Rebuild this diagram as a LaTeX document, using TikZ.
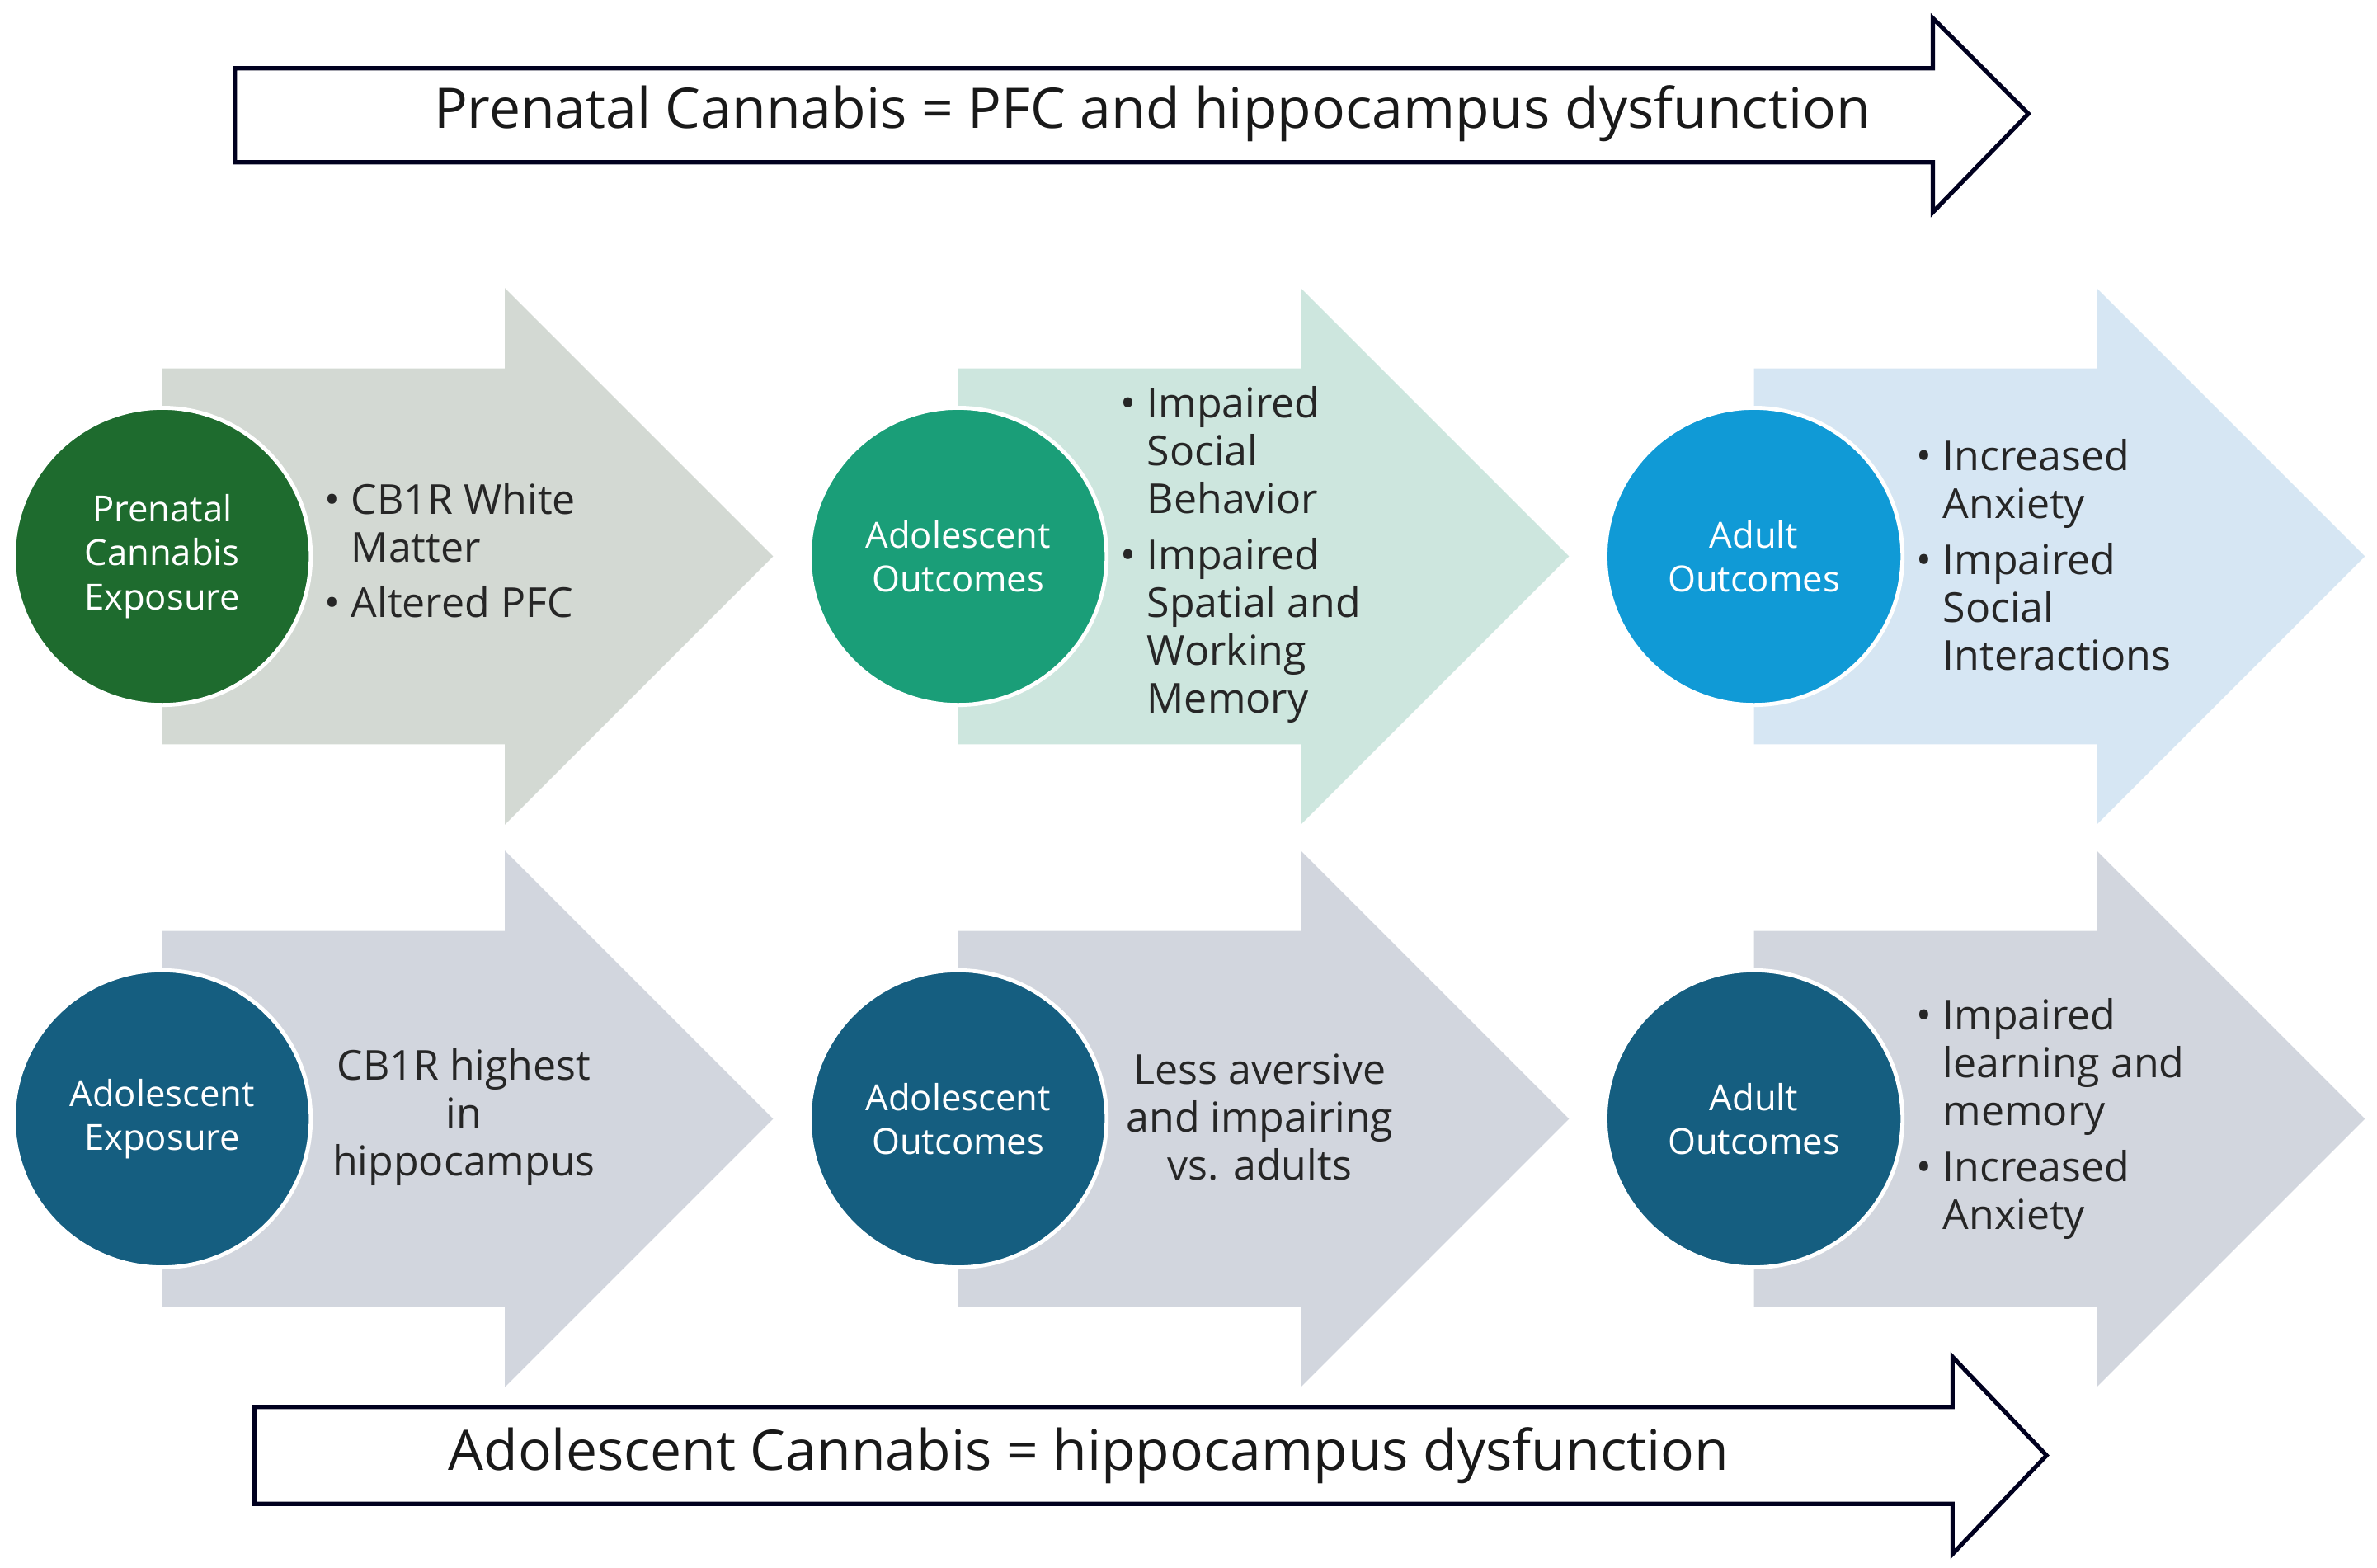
\documentclass[tikz,border=0pt]{standalone}
\usepackage{fontspec}
\setmainfont{Open Sans}
\begin{document}
\begin{tikzpicture}[x=0.02cm,y=-0.02cm,
  big/.style={draw=none},
  circ/.style={circle,draw=white,line width=1.5pt,minimum size=196*0.02cm,inner sep=0pt,text=white,align=center,font=\fontsize{13.5}{16.5}\selectfont},
  txt/.style={align=left,anchor=west,inner sep=0pt,text=black!85,font=\fontsize{15.5}{18}\selectfont},
  ctxt/.style={align=center,inner sep=0pt,text=black!85,font=\fontsize{15.5}{18}\selectfont},
  title/.style={font=\fontsize{21}{24}\selectfont,text=black!90,inner sep=0pt},
  outl/.style={draw=black!70!blue!40!black,line width=1.6pt,fill=white,line join=miter}]
\useasboundingbox (0,0) rectangle (1568,1034);
\definecolor{ga}{HTML}{D3D9D3}\definecolor{gb}{HTML}{CDE6DE}\definecolor{gc}{HTML}{D6E6F3}\definecolor{gd}{HTML}{D2D6DE}
\definecolor{ca}{HTML}{1E6B2E}\definecolor{cb}{HTML}{1A9E78}\definecolor{cc}{HTML}{109AD6}\definecolor{cd}{HTML}{155E80}
\newcommand\bigarrow[3]{\fill[#3] (#1,#2-124)--(#1+226,#2-124)--(#1+226,#2-177)--(#1+403,#2)--(#1+226,#2+177)--(#1+226,#2+124)--(#1,#2+124)--cycle;}
\bigarrow{107}{367}{ga}\bigarrow{632}{367}{gb}\bigarrow{1157}{367}{gc}
\bigarrow{107}{738}{gd}\bigarrow{632}{738}{gd}\bigarrow{1157}{738}{gd}
% outline arrows
\draw[outl] (155,45)--(1275,45)--(1275,12)--(1338,75)--(1275,140)--(1275,107)--(155,107)--cycle;
\node[title] (t1) at (760,75) {Prenatal Cannabis = PFC and hippocampus dysfunction};
\draw[outl] (168,928)--(1288,928)--(1288,895)--(1350,960)--(1288,1025)--(1288,992)--(168,992)--cycle;
\node[title] (t2) at (718,960) {Adolescent Cannabis = hippocampus dysfunction};
% circles
\node[circ,fill=ca] (c1) at (107,367) {Prenatal\\Cannabis\\Exposure};
\node[circ,fill=cb] (c2) at (632,367) {Adolescent\\Outcomes};
\node[circ,fill=cc] (c3) at (1157,367) {Adult\\Outcomes};
\node[circ,fill=cd] (c4) at (107,738) {Adolescent\\Exposure};
\node[circ,fill=cd] (c5) at (632,738) {Adolescent\\Outcomes};
\node[circ,fill=cd] (c6) at (1157,738) {Adult\\Outcomes};
% texts
\def\B{\makebox[20\pgflinewidth][l]{}}
\node[txt] (x1) at (214,363) {\textbullet\ CB1R White\\\phantom{\textbullet\ }Matter\\[3pt]\textbullet\ Altered PFC};
\node[txt] (x2) at (739,366) {\textbullet\ Impaired\\\phantom{\textbullet\ }Social\\\phantom{\textbullet\ }Behavior\\[3pt]\textbullet\ Impaired\\\phantom{\textbullet\ }Spatial and\\\phantom{\textbullet\ }Working\\\phantom{\textbullet\ }Memory};
\node[txt] (x3) at (1264,366) {\textbullet\ Increased\\\phantom{\textbullet\ }Anxiety\\[3pt]\textbullet\ Impaired\\\phantom{\textbullet\ }Social\\\phantom{\textbullet\ }Interactions};
\node[ctxt] (x4) at (306,737) {CB1R highest\\in\\hippocampus};
\node[ctxt] (x5) at (831,737) {Less aversive\\and impairing\\vs. adults};
\node[txt] (x6) at (1264,738) {\textbullet\ Impaired\\\phantom{\textbullet\ }learning and\\\phantom{\textbullet\ }memory\\[3pt]\textbullet\ Increased\\\phantom{\textbullet\ }Anxiety};
\end{tikzpicture}
\end{document}
